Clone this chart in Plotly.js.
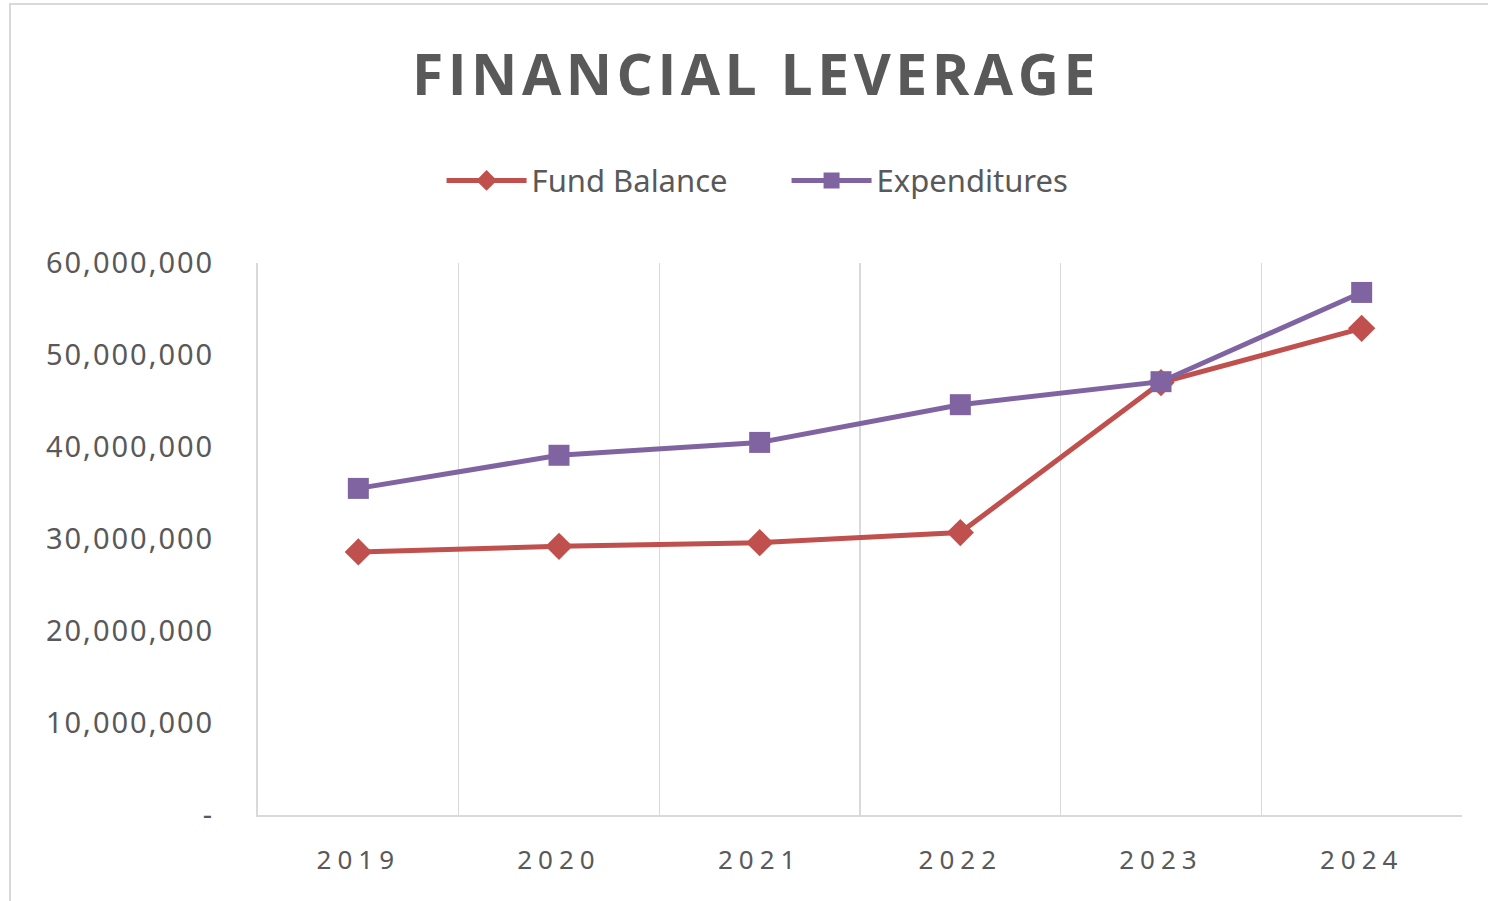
<!DOCTYPE html>
<html>
<head>
<meta charset="utf-8">
<script src="https://cdn.plot.ly/plotly-3.0.1.min.js"></script>
<style>
  html, body { margin: 0; padding: 0; background: #ffffff; overflow: hidden; }
  #frame { position: absolute; left: 9px; top: 3px; width: 1600px; height: 1000px;
           border-left: 2px solid #d9d9d9; border-top: 2px solid #d9d9d9; pointer-events: none; z-index: 2; }
  #chart { position: absolute; left: 0; top: 0; width: 1488px; height: 901px; }
  .gtitle { letter-spacing: 4.5px; }
  .xtick text { letter-spacing: 6px; }
  .ytick text { letter-spacing: 2px; }
</style>
</head>
<body>
<div id="chart"></div>
<div id="frame"></div>
<script>
const years = ["2019", "2020", "2021", "2022", "2023", "2024"];
const fundBalance = [28600000, 29200000, 29600000, 30700000, 47000000, 52900000];
const expenditures = [35500000, 39100000, 40500000, 44600000, 47100000, 56800000];
const yTickVals = [0, 10000000, 20000000, 30000000, 40000000, 50000000, 60000000];
const yTickText = ["-", "10,000,000", "20,000,000", "30,000,000", "40,000,000", "50,000,000", "60,000,000"];

const textColor = "#595959";
const font = "Noto Sans, Open Sans, sans-serif";

const traces = [
  {
    x: years, y: fundBalance, name: "Fund Balance", type: "scatter", mode: "lines+markers",
    line: { color: "#C0504D", width: 5 },
    marker: { symbol: "diamond", size: 21, color: "#C0504D" }
  },
  {
    x: years, y: expenditures, name: "Expenditures", type: "scatter", mode: "lines+markers",
    line: { color: "#8064A2", width: 5 },
    marker: { symbol: "square", size: 21, color: "#8064A2" }
  }
];

const layout = {
  width: 1488, height: 901,
  paper_bgcolor: "#ffffff", plot_bgcolor: "#ffffff",
  margin: { l: 258, r: 26, t: 263, b: 86 },
  title: {
    text: "<b>FINANCIAL LEVERAGE</b>",
    font: { family: "Open Sans, sans-serif", size: 57, color: textColor },
    x: 0.508, xanchor: "center", y: 0.917, yanchor: "middle"
  },
  showlegend: true,
  legend: {
    orientation: "h", x: 0.439, xanchor: "center", y: 1.149, yanchor: "middle",
    yref: "paper", font: { family: font, size: 31, color: textColor },
    itemwidth: 80, entrywidth: 250, entrywidthmode: "pixels", bgcolor: "rgba(0,0,0,0)"
  },
  xaxis: {
    type: "category",
    tickson: "boundaries",
    showgrid: true, gridcolor: "#d9d9d9", gridwidth: 1.5,
    showline: true, linecolor: "#d9d9d9", linewidth: 2,
    ticks: "", ticklabelstandoff: 21,
    tickfont: { family: font, size: 26, color: textColor },
    range: [-0.5, 5.5], fixedrange: true
  },
  yaxis: {
    range: [0, 60000000],
    tickvals: yTickVals, ticktext: yTickText,
    showgrid: false, zeroline: false,
    showline: true, linecolor: "#d9d9d9", linewidth: 2,
    ticks: "", ticklabelstandoff: 36,
    tickfont: { family: font, size: 29, color: textColor },
    fixedrange: true
  }
};

Plotly.newPlot("chart", traces, layout, { displayModeBar: false, staticPlot: true });
</script>
</body>
</html>
